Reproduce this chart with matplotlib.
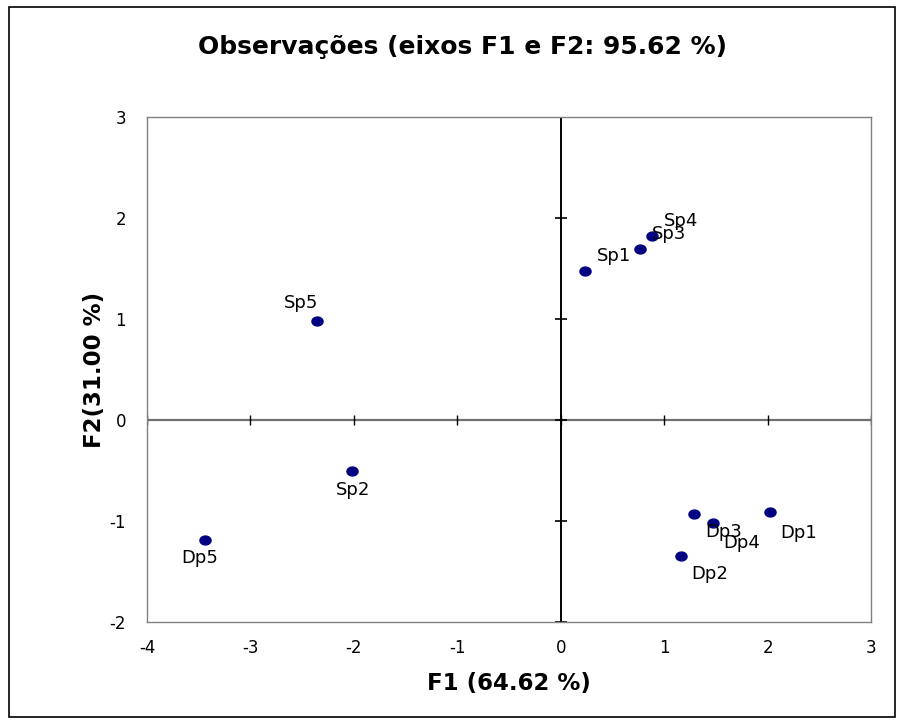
import numpy as np
import matplotlib.pyplot as plt
from matplotlib.patches import Rectangle
from matplotlib.path import Path

# observation scores on the first two factors
names = ['Sp1', 'Sp2', 'Sp3', 'Sp4', 'Sp5', 'Dp1', 'Dp2', 'Dp3', 'Dp4', 'Dp5']
f1 = [0.23, -2.02, 0.77, 0.88, -2.36, 2.02, 1.16, 1.29, 1.47, -3.44]
f2 = [1.475, -0.505, 1.69, 1.82, 0.98, -0.91, -1.35, -0.93, -1.02, -1.19]

# label offsets in points (dx, dy)
offsets = {
    'Sp1': (21, 11), 'Sp3': (21, 11), 'Sp4': (21, 11),
    'Sp5': (-11, 13), 'Sp2': (1, -14), 'Dp5': (-4, -13),
    'Dp1': (21, -15), 'Dp2': (21, -13), 'Dp3': (21, -13), 'Dp4': (21, -14),
}

xticks = [-4, -3, -2, -1, 0, 1, 2, 3]
yticks = [-2, -1, 0, 1, 2, 3]

plt.rcParams['font.family'] = 'DejaVu Sans'

# slightly flattened dot
t = np.linspace(0, 2 * np.pi, 40)
ellipse = Path(np.column_stack([np.cos(t), 0.8 * np.sin(t)]), closed=True)

fig = plt.figure(figsize=(9.03, 7.25), dpi=100)
ax = fig.add_axes([0.1628, 0.142, 0.8018, 0.6966])

ax.set_xlim(-4, 3)
ax.set_ylim(-2, 3)
for sp in ax.spines.values():
    sp.set_color('#808080')
    sp.set_linewidth(1.0)

# central axes through the origin
ax.axhline(0, color='#707070', lw=1.6, zorder=1)
ax.axvline(0, color='black', lw=1.4, zorder=1)
ax.plot(xticks, [0] * len(xticks), ls='none', marker='|', ms=7.5, mew=1.0, color='black', zorder=2)
ax.plot([0] * len(yticks), yticks, ls='none', marker='_', ms=9, mew=1.2, color='black', zorder=2)

ax.plot(f1, f2, ls='none', marker=ellipse, ms=8, color='#000080', zorder=3)
for n, x, y in zip(names, f1, f2):
    dx, dy = offsets[n]
    ax.annotate(n, (x, y), xytext=(dx, dy), textcoords='offset points',
                ha='center', va='center', fontsize=13)

ax.set_xticks(xticks)
ax.set_yticks(yticks)
ax.tick_params(axis='x', length=0, labelsize=12, pad=12)
ax.tick_params(axis='y', length=0, labelsize=12, pad=15)
ax.set_xticklabels([str(t) for t in xticks])
ax.set_yticklabels([str(t) for t in yticks])

ax.set_xlabel('F1 (64.62 %)', fontsize=16.5, fontweight='bold', labelpad=11)
ax.set_ylabel('F2(31.00 %)', fontsize=16.5, fontweight='bold', labelpad=3)
fig.text(0.512, 0.935, 'Observações (eixos F1 e F2: 95.62 %)', ha='center', va='center',
         fontsize=18, fontweight='bold')

fig.patches.append(Rectangle((9 / 903, 1 - 717 / 725), 886 / 903, 710 / 725,
                             transform=fig.transFigure, fill=False, ec='black', lw=1.2))

fig.savefig('out.png', dpi=100)
